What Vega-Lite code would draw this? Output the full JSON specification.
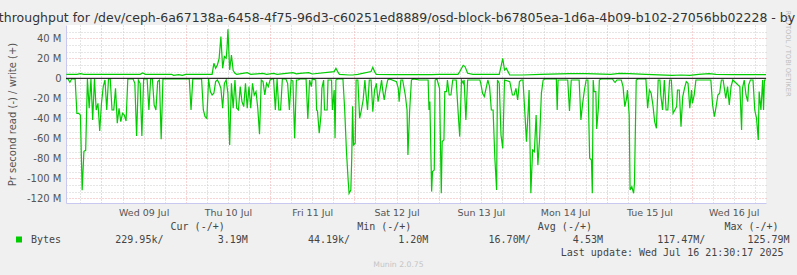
{
"$schema": "https://vega.github.io/schema/vega-lite/v6.json",
"width": 700, "height": 178,
"autosize": {"type": "none"},
"padding": {"left": 66, "top": 25, "right": 31, "bottom": 72},
"background": "#f0f0f0",
"config": {"view": {"fill": "#ffffff", "stroke": null}, "font": "DejaVu Sans"},
"title": {"text": "Disk throughput for /dev/ceph-6a67138a-6458-4f75-96d3-c60251ed8889/osd-block-b67805ea-1d6a-4b09-b102-27056bb02228 - by week", "fontSize": 12.5, "font": "DejaVu Sans", "fontWeight": "normal", "color": "#333333", "anchor": "middle", "frame": "group", "dx": -16, "dy": 18, "offset": 4},
"datasets": {
"write": [
{"t":"2025-07-08T14:00","v":4},{"t":"2025-07-08T17:00","v":4},{"t":"2025-07-08T18:00","v":4.7},{"t":"2025-07-08T19:00","v":4},
{"t":"2025-07-09T11:00","v":4},{"t":"2025-07-09T11:45","v":5.3},{"t":"2025-07-09T12:30","v":4},{"t":"2025-07-09T20:00","v":4},{"t":"2025-07-09T20:30","v":3},{"t":"2025-07-09T22:00","v":3.7},{"t":"2025-07-09T23:00","v":3},
{"t":"2025-07-10T00:00","v":4},{"t":"2025-07-10T07:30","v":4},{"t":"2025-07-10T08:00","v":15},{"t":"2025-07-10T08:30","v":10},{"t":"2025-07-10T09:00","v":13.3},{"t":"2025-07-10T09:30","v":20},{"t":"2025-07-10T10:00","v":41.7},{"t":"2025-07-10T10:30","v":10},{"t":"2025-07-10T11:00","v":21.7},{"t":"2025-07-10T11:30","v":20},{"t":"2025-07-10T11:45","v":30},{"t":"2025-07-10T12:00","v":49},{"t":"2025-07-10T12:30","v":8.3},{"t":"2025-07-10T13:00","v":23.3},{"t":"2025-07-10T13:30","v":7.7},{"t":"2025-07-10T14:00","v":5},{"t":"2025-07-10T14:30","v":4},{"t":"2025-07-10T17:30","v":5.7},{"t":"2025-07-10T18:30","v":4},{"t":"2025-07-10T22:00","v":5},{"t":"2025-07-10T23:00","v":4},
{"t":"2025-07-11T01:00","v":5},{"t":"2025-07-11T02:00","v":4},{"t":"2025-07-11T06:30","v":5.7},{"t":"2025-07-11T07:30","v":4.5},{"t":"2025-07-11T08:30","v":5},{"t":"2025-07-11T11:00","v":5.7},{"t":"2025-07-11T12:00","v":4.3},{"t":"2025-07-11T18:15","v":6.7},{"t":"2025-07-11T18:45","v":10},{"t":"2025-07-11T19:15","v":6.7},{"t":"2025-07-11T19:45","v":4},{"t":"2025-07-11T22:30","v":3.3},{"t":"2025-07-11T23:30","v":3.3},
{"t":"2025-07-12T01:00","v":4},{"t":"2025-07-12T04:45","v":6.7},{"t":"2025-07-12T05:15","v":11},{"t":"2025-07-12T05:45","v":6.7},{"t":"2025-07-12T06:15","v":4},{"t":"2025-07-12T12:00","v":3.7},{"t":"2025-07-12T22:00","v":3.7},
{"t":"2025-07-13T00:00","v":4},{"t":"2025-07-13T05:30","v":4},{"t":"2025-07-13T06:00","v":6.7},{"t":"2025-07-13T07:00","v":13},{"t":"2025-07-13T07:30","v":11.7},{"t":"2025-07-13T08:15","v":5},{"t":"2025-07-13T09:45","v":4},{"t":"2025-07-13T17:15","v":4},{"t":"2025-07-13T17:45","v":11.7},{"t":"2025-07-13T18:15","v":20},{"t":"2025-07-13T18:45","v":8.3},{"t":"2025-07-13T19:15","v":10},{"t":"2025-07-13T19:45","v":6.7},{"t":"2025-07-13T20:15","v":3.3},
{"t":"2025-07-14T00:00","v":3.3},{"t":"2025-07-14T05:00","v":4},{"t":"2025-07-14T13:15","v":4.7},{"t":"2025-07-14T18:00","v":4.7},
{"t":"2025-07-15T01:00","v":4},{"t":"2025-07-15T03:30","v":5},{"t":"2025-07-15T06:15","v":4.7},{"t":"2025-07-15T11:00","v":4},{"t":"2025-07-15T18:30","v":3},{"t":"2025-07-15T21:00","v":3.3},{"t":"2025-07-15T23:30","v":3},
{"t":"2025-07-16T02:00","v":4},{"t":"2025-07-16T05:00","v":4.7},{"t":"2025-07-16T07:00","v":4},{"t":"2025-07-16T12:00","v":3.7},{"t":"2025-07-16T21:15","v":3.7}
],
"read": [
{"t":"2025-07-08T14:00","v":-0.7},{"t":"2025-07-08T14:30","v":-0.7},{"t":"2025-07-08T15:00","v":-4},{"t":"2025-07-08T15:30","v":-0.7},{"t":"2025-07-08T16:30","v":-0.7},{"t":"2025-07-08T17:00","v":-35},{"t":"2025-07-08T17:30","v":-35},{"t":"2025-07-08T18:00","v":-36.7},{"t":"2025-07-08T18:30","v":-112},{"t":"2025-07-08T19:00","v":-73},{"t":"2025-07-08T19:30","v":-72},{"t":"2025-07-08T20:00","v":-0.7},{"t":"2025-07-08T20:30","v":-30},{"t":"2025-07-08T21:00","v":-0.7},{"t":"2025-07-08T21:30","v":-41.7},{"t":"2025-07-08T22:00","v":-0.7},{"t":"2025-07-08T22:30","v":-31.7},{"t":"2025-07-08T23:00","v":-25},{"t":"2025-07-08T23:30","v":-52.7},
{"t":"2025-07-09T00:00","v":-25},{"t":"2025-07-09T00:30","v":-8.3},{"t":"2025-07-09T01:00","v":-1.7},{"t":"2025-07-09T01:30","v":-31.7},{"t":"2025-07-09T02:00","v":-0.7},{"t":"2025-07-09T02:30","v":-0.7},{"t":"2025-07-09T03:00","v":-31.7},{"t":"2025-07-09T03:30","v":-31.7},{"t":"2025-07-09T04:00","v":-10},{"t":"2025-07-09T04:30","v":-45},{"t":"2025-07-09T05:00","v":-30},{"t":"2025-07-09T05:30","v":-43.3},{"t":"2025-07-09T06:00","v":-35},{"t":"2025-07-09T06:30","v":-36.7},{"t":"2025-07-09T07:00","v":-42.7},{"t":"2025-07-09T07:30","v":-0.7},{"t":"2025-07-09T09:00","v":-0.7},{"t":"2025-07-09T09:30","v":-5},{"t":"2025-07-09T10:00","v":-57.7},{"t":"2025-07-09T10:30","v":-1.7},{"t":"2025-07-09T11:00","v":-5},{"t":"2025-07-09T11:30","v":-57.7},{"t":"2025-07-09T12:00","v":-0.7},{"t":"2025-07-09T13:00","v":-0.7},{"t":"2025-07-09T13:30","v":-31.7},{"t":"2025-07-09T14:00","v":-0.7},{"t":"2025-07-09T14:30","v":-0.7},{"t":"2025-07-09T15:00","v":-26.7},{"t":"2025-07-09T15:30","v":-31.7},{"t":"2025-07-09T16:00","v":-3.3},{"t":"2025-07-09T16:30","v":-1.7},{"t":"2025-07-09T17:00","v":-61},{"t":"2025-07-09T17:30","v":-0.7},
{"t":"2025-07-10T01:00","v":-0.7},{"t":"2025-07-10T01:30","v":-31.7},{"t":"2025-07-10T02:00","v":-0.7},{"t":"2025-07-10T04:30","v":-0.7},{"t":"2025-07-10T05:00","v":-31.7},{"t":"2025-07-10T05:30","v":-38.3},{"t":"2025-07-10T06:00","v":-40},{"t":"2025-07-10T06:30","v":-0.7},{"t":"2025-07-10T07:00","v":-13.3},{"t":"2025-07-10T07:30","v":-16.7},{"t":"2025-07-10T08:00","v":-15},{"t":"2025-07-10T08:30","v":-3.3},{"t":"2025-07-10T09:00","v":-1.7},{"t":"2025-07-10T09:30","v":-5},{"t":"2025-07-10T10:00","v":-10},{"t":"2025-07-10T10:30","v":-30},{"t":"2025-07-10T11:00","v":-5},{"t":"2025-07-10T11:30","v":-1.7},{"t":"2025-07-10T12:00","v":-15},{"t":"2025-07-10T12:30","v":-66.7},{"t":"2025-07-10T13:00","v":-5},{"t":"2025-07-10T13:30","v":-30},{"t":"2025-07-10T14:00","v":-1.7},{"t":"2025-07-10T14:30","v":-30},{"t":"2025-07-10T15:00","v":-31.7},{"t":"2025-07-10T15:30","v":-8.3},{"t":"2025-07-10T16:00","v":-23.3},{"t":"2025-07-10T16:30","v":-28.3},{"t":"2025-07-10T17:00","v":-5},{"t":"2025-07-10T17:30","v":-30},{"t":"2025-07-10T18:00","v":-8.3},{"t":"2025-07-10T18:30","v":-30},{"t":"2025-07-10T19:00","v":-5},{"t":"2025-07-10T19:30","v":-16.7},{"t":"2025-07-10T20:00","v":-13.3},{"t":"2025-07-10T20:30","v":-30},{"t":"2025-07-10T21:00","v":-56},{"t":"2025-07-10T21:30","v":-1.7},{"t":"2025-07-10T22:00","v":-3.3},{"t":"2025-07-10T22:30","v":-16.7},{"t":"2025-07-10T23:00","v":-5},{"t":"2025-07-10T23:30","v":-8.3},
{"t":"2025-07-11T00:00","v":-1.7},{"t":"2025-07-11T00:30","v":-0.7},{"t":"2025-07-11T01:00","v":-0.7},{"t":"2025-07-11T01:30","v":-31.7},{"t":"2025-07-11T02:00","v":-0.7},{"t":"2025-07-11T02:30","v":-31.7},{"t":"2025-07-11T03:00","v":-31.7},{"t":"2025-07-11T03:30","v":-0.7},{"t":"2025-07-11T04:30","v":-0.7},{"t":"2025-07-11T05:00","v":-5},{"t":"2025-07-11T05:30","v":-31.7},{"t":"2025-07-11T06:00","v":-1.7},{"t":"2025-07-11T06:30","v":-2.7},{"t":"2025-07-11T07:00","v":-60},{"t":"2025-07-11T07:30","v":-1.7},{"t":"2025-07-11T08:00","v":-1.7},{"t":"2025-07-11T08:30","v":-0.7},{"t":"2025-07-11T10:15","v":-0.7},{"t":"2025-07-11T10:45","v":-40.7},{"t":"2025-07-11T11:15","v":-1.7},{"t":"2025-07-11T11:45","v":-8.3},{"t":"2025-07-11T12:00","v":-0.7},{"t":"2025-07-11T13:00","v":-1.7},{"t":"2025-07-11T13:15","v":-31.7},{"t":"2025-07-11T13:30","v":-32.7},{"t":"2025-07-11T14:00","v":-55},{"t":"2025-07-11T14:30","v":-36.7},{"t":"2025-07-11T14:45","v":-10},{"t":"2025-07-11T15:15","v":-1.7},{"t":"2025-07-11T15:30","v":-31.7},{"t":"2025-07-11T16:15","v":-31.7},{"t":"2025-07-11T16:30","v":-1.7},{"t":"2025-07-11T17:30","v":-1.7},{"t":"2025-07-11T17:45","v":-31.7},{"t":"2025-07-11T18:15","v":-11.7},{"t":"2025-07-11T18:30","v":-60},{"t":"2025-07-11T18:45","v":-1.7},{"t":"2025-07-11T19:15","v":-0.7},{"t":"2025-07-11T20:45","v":-0.7},{"t":"2025-07-11T21:15","v":-31.7},{"t":"2025-07-11T21:45","v":-73},{"t":"2025-07-11T22:15","v":-103},{"t":"2025-07-11T22:30","v":-115},{"t":"2025-07-11T23:00","v":-111.7},{"t":"2025-07-11T23:15","v":-80},{"t":"2025-07-11T23:30","v":-28},{"t":"2025-07-11T23:45","v":-66.7},
{"t":"2025-07-12T00:15","v":-65},{"t":"2025-07-12T00:30","v":-1.7},{"t":"2025-07-12T01:00","v":-1.7},{"t":"2025-07-12T01:30","v":-40},{"t":"2025-07-12T02:00","v":-31.7},{"t":"2025-07-12T02:30","v":-21.7},{"t":"2025-07-12T03:00","v":-1.7},{"t":"2025-07-12T03:15","v":-13.3},{"t":"2025-07-12T03:45","v":-31.7},{"t":"2025-07-12T04:15","v":-1.7},{"t":"2025-07-12T04:45","v":-1.7},{"t":"2025-07-12T05:15","v":-33.3},{"t":"2025-07-12T05:45","v":-11.7},{"t":"2025-07-12T06:15","v":-5},{"t":"2025-07-12T06:45","v":-23.3},{"t":"2025-07-12T07:15","v":-13.3},{"t":"2025-07-12T07:45","v":-1.7},{"t":"2025-07-12T08:00","v":-10},{"t":"2025-07-12T08:30","v":-21.7},{"t":"2025-07-12T09:00","v":-10},{"t":"2025-07-12T09:30","v":-1.7},{"t":"2025-07-12T10:00","v":-0.7},{"t":"2025-07-12T12:00","v":-3.3},{"t":"2025-07-12T12:30","v":-10},{"t":"2025-07-12T12:45","v":-23.3},{"t":"2025-07-12T13:15","v":-1.7},{"t":"2025-07-12T13:45","v":-1.7},{"t":"2025-07-12T14:30","v":-16.7},{"t":"2025-07-12T15:00","v":-31.7},{"t":"2025-07-12T15:15","v":-76.7},{"t":"2025-07-12T15:45","v":-31.7},{"t":"2025-07-12T16:15","v":-1.7},{"t":"2025-07-12T16:45","v":-0.7},{"t":"2025-07-12T18:30","v":-1.7},{"t":"2025-07-12T21:00","v":-1.7},{"t":"2025-07-12T21:15","v":-31.7},{"t":"2025-07-12T21:30","v":-23.3},{"t":"2025-07-12T22:00","v":-113.3},{"t":"2025-07-12T22:15","v":-93.3},{"t":"2025-07-12T22:45","v":-91.7},{"t":"2025-07-12T23:00","v":-1.7},{"t":"2025-07-12T23:30","v":-0.7},
{"t":"2025-07-13T00:15","v":-10},{"t":"2025-07-13T00:45","v":-115},{"t":"2025-07-13T01:00","v":-63.3},{"t":"2025-07-13T01:30","v":-61.7},{"t":"2025-07-13T01:45","v":-13.3},{"t":"2025-07-13T02:15","v":-13.3},{"t":"2025-07-13T02:30","v":-1.7},{"t":"2025-07-13T03:00","v":-16.7},{"t":"2025-07-13T03:30","v":-16.7},{"t":"2025-07-13T04:00","v":-1.7},{"t":"2025-07-13T05:00","v":-1.7},{"t":"2025-07-13T05:30","v":-31.7},{"t":"2025-07-13T06:00","v":-58.3},{"t":"2025-07-13T06:30","v":-1.7},{"t":"2025-07-13T07:00","v":-5},{"t":"2025-07-13T07:15","v":-1.7},{"t":"2025-07-13T07:45","v":-41.7},{"t":"2025-07-13T08:15","v":-1.7},{"t":"2025-07-13T11:45","v":-1.7},{"t":"2025-07-13T12:00","v":-5},{"t":"2025-07-13T12:30","v":-15},{"t":"2025-07-13T13:00","v":-18.3},{"t":"2025-07-13T13:30","v":-10},{"t":"2025-07-13T14:00","v":-1.7},{"t":"2025-07-13T14:30","v":-8.3},{"t":"2025-07-13T15:00","v":-31.7},{"t":"2025-07-13T15:30","v":-31.7},{"t":"2025-07-13T16:00","v":-80},{"t":"2025-07-13T16:30","v":-111.7},{"t":"2025-07-13T16:45","v":-1.7},{"t":"2025-07-13T17:15","v":-5},{"t":"2025-07-13T17:45","v":-56.7},{"t":"2025-07-13T18:15","v":-70},{"t":"2025-07-13T18:45","v":-1.7},{"t":"2025-07-13T20:15","v":-3.3},{"t":"2025-07-13T21:00","v":-16.7},{"t":"2025-07-13T21:30","v":-16.7},{"t":"2025-07-13T22:00","v":-10},{"t":"2025-07-13T22:30","v":-21.7},{"t":"2025-07-13T23:00","v":-3.3},{"t":"2025-07-13T23:30","v":-1.7},
{"t":"2025-07-14T00:00","v":-1.7},{"t":"2025-07-14T00:30","v":-31.7},{"t":"2025-07-14T01:00","v":-63.3},{"t":"2025-07-14T01:30","v":-31.7},{"t":"2025-07-14T01:45","v":-11.7},{"t":"2025-07-14T02:15","v":-115},{"t":"2025-07-14T02:45","v":-71.7},{"t":"2025-07-14T03:15","v":-73.3},{"t":"2025-07-14T03:45","v":-36.7},{"t":"2025-07-14T04:15","v":-86.7},{"t":"2025-07-14T04:45","v":-60},{"t":"2025-07-14T05:15","v":-15},{"t":"2025-07-14T05:45","v":-1.7},{"t":"2025-07-14T06:15","v":-0.7},{"t":"2025-07-14T09:30","v":-0.7},{"t":"2025-07-14T09:45","v":-31.7},{"t":"2025-07-14T10:00","v":-1.7},{"t":"2025-07-14T12:45","v":-1.7},{"t":"2025-07-14T13:15","v":-32.7},{"t":"2025-07-14T13:45","v":-1.7},{"t":"2025-07-14T16:00","v":-1.7},{"t":"2025-07-14T16:30","v":-41.7},{"t":"2025-07-14T17:00","v":-25},{"t":"2025-07-14T17:30","v":-11.7},{"t":"2025-07-14T18:00","v":-1.7},{"t":"2025-07-14T18:30","v":-1.7},{"t":"2025-07-14T19:00","v":-80},{"t":"2025-07-14T19:30","v":-81.7},{"t":"2025-07-14T19:45","v":-115},{"t":"2025-07-14T20:00","v":-1.7},{"t":"2025-07-14T20:15","v":-13.3},{"t":"2025-07-14T20:45","v":-13.3},{"t":"2025-07-14T21:00","v":-50.7},{"t":"2025-07-14T21:30","v":-28.3},{"t":"2025-07-14T21:45","v":-1.7},{"t":"2025-07-14T22:15","v":-0.7},
{"t":"2025-07-15T01:30","v":-0.7},{"t":"2025-07-15T02:00","v":-3.3},{"t":"2025-07-15T02:15","v":-4},{"t":"2025-07-15T02:45","v":-1.7},{"t":"2025-07-15T04:00","v":-1.7},{"t":"2025-07-15T04:30","v":-8.3},{"t":"2025-07-15T05:00","v":-28.3},{"t":"2025-07-15T05:30","v":-20},{"t":"2025-07-15T05:45","v":-11.7},{"t":"2025-07-15T06:15","v":-36.7},{"t":"2025-07-15T06:30","v":-111.7},{"t":"2025-07-15T07:00","v":-108.3},{"t":"2025-07-15T07:30","v":-115},{"t":"2025-07-15T07:45","v":-105},{"t":"2025-07-15T08:15","v":-1.7},{"t":"2025-07-15T08:45","v":-0.7},{"t":"2025-07-15T11:00","v":-0.7},{"t":"2025-07-15T11:30","v":-30},{"t":"2025-07-15T12:00","v":-11.7},{"t":"2025-07-15T12:30","v":-15},{"t":"2025-07-15T13:00","v":-26.7},{"t":"2025-07-15T13:30","v":-43.3},{"t":"2025-07-15T14:00","v":-50},{"t":"2025-07-15T14:30","v":-1.7},{"t":"2025-07-15T15:00","v":-1.7},{"t":"2025-07-15T15:15","v":-16.7},{"t":"2025-07-15T15:45","v":-31.7},{"t":"2025-07-15T16:15","v":-1.7},{"t":"2025-07-15T16:45","v":-31.7},{"t":"2025-07-15T17:15","v":-31.7},{"t":"2025-07-15T17:45","v":-1.7},{"t":"2025-07-15T18:15","v":-1.7},{"t":"2025-07-15T18:45","v":-35},{"t":"2025-07-15T19:15","v":-31.7},{"t":"2025-07-15T19:45","v":-28.3},{"t":"2025-07-15T20:00","v":-11.7},{"t":"2025-07-15T20:30","v":-11.7},{"t":"2025-07-15T21:00","v":-48.3},{"t":"2025-07-15T21:30","v":-18.3},{"t":"2025-07-15T22:00","v":-10},{"t":"2025-07-15T22:30","v":-3.3},{"t":"2025-07-15T23:00","v":-5},{"t":"2025-07-15T23:30","v":-30},
{"t":"2025-07-16T00:00","v":-11.7},{"t":"2025-07-16T00:15","v":-25},{"t":"2025-07-16T00:45","v":-16.7},{"t":"2025-07-16T01:15","v":-1.7},{"t":"2025-07-16T05:30","v":-1.7},{"t":"2025-07-16T06:00","v":-26.7},{"t":"2025-07-16T06:30","v":-38.3},{"t":"2025-07-16T07:00","v":-28.3},{"t":"2025-07-16T07:30","v":-16.7},{"t":"2025-07-16T08:00","v":-15},{"t":"2025-07-16T08:30","v":-1.7},{"t":"2025-07-16T09:00","v":-1.7},{"t":"2025-07-16T09:45","v":-20},{"t":"2025-07-16T10:15","v":-8.3},{"t":"2025-07-16T10:45","v":-26.7},{"t":"2025-07-16T11:15","v":-8.3},{"t":"2025-07-16T11:45","v":-1.7},{"t":"2025-07-16T12:45","v":-5},{"t":"2025-07-16T13:15","v":-6.7},{"t":"2025-07-16T13:45","v":-8.3},{"t":"2025-07-16T14:15","v":-51.7},{"t":"2025-07-16T14:30","v":-10},{"t":"2025-07-16T15:00","v":-1.7},{"t":"2025-07-16T15:30","v":-16.7},{"t":"2025-07-16T16:00","v":-23.3},{"t":"2025-07-16T16:15","v":-6.7},{"t":"2025-07-16T16:45","v":-1.7},{"t":"2025-07-16T17:30","v":-1.7},{"t":"2025-07-16T18:00","v":-31.7},{"t":"2025-07-16T18:30","v":-40},{"t":"2025-07-16T19:00","v":-61.7},{"t":"2025-07-16T19:15","v":-13.3},{"t":"2025-07-16T19:45","v":-31.7},{"t":"2025-07-16T20:15","v":-1.7},{"t":"2025-07-16T20:30","v":-31.7},{"t":"2025-07-16T20:45","v":-1.7},{"t":"2025-07-16T21:15","v":-1.7}
]
},
"layer": [
{"data": {"name": "write"},
 "mark": {"type": "line", "strokeWidth": 1.2, "clip": true, "interpolate": "linear"},
 "encoding": {
  "x": {"field": "t", "type": "temporal",
   "scale": {"domain": [{"year":2025,"month":7,"date":8,"hours":13,"minutes":54},{"year":2025,"month":7,"date":16,"hours":21,"minutes":12}]},
   "axis": {"orient": "bottom",
    "values": [{"year":2025,"month":7,"date":8,"hours":18},
     {"year":2025,"month":7,"date":9,"hours":6},{"year":2025,"month":7,"date":9,"hours":12},{"year":2025,"month":7,"date":9,"hours":18},
     {"year":2025,"month":7,"date":10,"hours":6},{"year":2025,"month":7,"date":10,"hours":12},{"year":2025,"month":7,"date":10,"hours":18},
     {"year":2025,"month":7,"date":11,"hours":6},{"year":2025,"month":7,"date":11,"hours":12},{"year":2025,"month":7,"date":11,"hours":18},
     {"year":2025,"month":7,"date":12,"hours":6},{"year":2025,"month":7,"date":12,"hours":12},{"year":2025,"month":7,"date":12,"hours":18},
     {"year":2025,"month":7,"date":13,"hours":6},{"year":2025,"month":7,"date":13,"hours":12},{"year":2025,"month":7,"date":13,"hours":18},
     {"year":2025,"month":7,"date":14,"hours":6},{"year":2025,"month":7,"date":14,"hours":12},{"year":2025,"month":7,"date":14,"hours":18},
     {"year":2025,"month":7,"date":15,"hours":6},{"year":2025,"month":7,"date":15,"hours":12},{"year":2025,"month":7,"date":15,"hours":18},
     {"year":2025,"month":7,"date":16,"hours":6},{"year":2025,"month":7,"date":16,"hours":12},{"year":2025,"month":7,"date":16,"hours":18}],
    "labelExpr": "hours(datum.value) == 12 ? timeFormat(datum.value, '%a %d %b') : ''",
    "labelFont": "DejaVu Sans", "labelFontSize": 9.5, "labelColor": "#555555", "labelPadding": 4, "labelOverlap": false, "labelFlush": false,
    "ticks": false, "grid": true, "gridColor": "#c8c8c8", "gridDash": [1, 2], "domainColor": "#c8c8f0",
    "title": "Last update: Wed Jul 16 21:30:17 2025", "titleFont": "DejaVu Sans Mono", "titleFontSize": 10, "titleFontWeight": "normal", "titleColor": "#444444",
    "titleX": 717, "titleY": 49, "titleAlign": "right", "titleBaseline": "middle", "titleAngle": 0}},
  "y": {"field": "v", "type": "quantitative",
   "scale": {"domain": [-124.7, 53.3], "nice": false, "zero": false},
   "axis": {"orient": "left", "values": [-120, -100, -80, -60, -40, -20, 0, 20, 40],
    "labelExpr": "datum.value == 0 ? '0' : datum.value + ' M'",
    "labelFont": "DejaVu Sans", "labelFontSize": 10, "labelColor": "#555555", "labelPadding": 5,
    "ticks": false, "grid": true, "gridColor": "#f0a8a8", "gridDash": [1, 2], "domainColor": "#c8c8f0",
    "title": "Pr second read (-) / write (+)", "titleFont": "DejaVu Sans", "titleFontSize": 10, "titleFontWeight": "normal", "titleColor": "#555555",
    "titleX": -54, "titleY": 89, "titleAngle": -90, "titleAlign": "center", "titleBaseline": "middle"}},
  "color": {"datum": "Bytes", "type": "nominal", "scale": {"range": ["#00cc00"]},
   "legend": {"orient": "none", "legendX": -52, "legendY": 196.5, "padding": 0,
    "symbolType": "square", "symbolSize": 36, "symbolFillColor": "#00cc00", "symbolStrokeColor": "#00cc00", "symbolStrokeWidth": 0,
    "labelFont": "DejaVu Sans Mono", "labelFontSize": 10, "labelColor": "#444444", "labelOffset": 7, "labelLimit": 1000,
    "labelExpr": "pad('Bytes',14,'\u00a0') + pad('229.95k/',17,'\u00a0') + pad('3.19M',15,'\u00a0') + pad('44.19k/',15,'\u00a0') + pad('1.20M',15,'\u00a0') + pad('16.70M/',14,'\u00a0') + pad('4.53M',14,'\u00a0') + pad('117.47M/',15,'\u00a0') + '125.79M'",
    "title": "\u200b\u00a0\u00a0\u00a0\u00a0\u00a0\u00a0\u00a0\u00a0\u00a0\u00a0\u00a0\u00a0\u00a0\u00a0\u00a0\u00a0\u00a0\u00a0\u00a0\u00a0\u00a0\u00a0\u00a0\u00a0\u00a0\u00a0Cur (-/+)\u00a0\u00a0\u00a0\u00a0\u00a0\u00a0\u00a0\u00a0\u00a0\u00a0\u00a0\u00a0\u00a0\u00a0\u00a0\u00a0\u00a0\u00a0\u00a0\u00a0\u00a0\u00a0Min (-/+)\u00a0\u00a0\u00a0\u00a0\u00a0\u00a0\u00a0\u00a0\u00a0\u00a0\u00a0\u00a0\u00a0\u00a0\u00a0\u00a0\u00a0\u00a0\u00a0\u00a0\u00a0Avg (-/+)\u00a0\u00a0\u00a0\u00a0\u00a0\u00a0\u00a0\u00a0\u00a0\u00a0\u00a0\u00a0\u00a0\u00a0\u00a0\u00a0\u00a0\u00a0\u00a0\u00a0\u00a0\u00a0Max (-/+)",
    "titleFont": "DejaVu Sans Mono", "titleFontSize": 10, "titleFontWeight": "normal", "titleColor": "#444444", "titlePadding": 3, "titleLimit": 1000,
    "encode": {"symbols": {"update": {"fill": {"value": "#00cc00"}, "stroke": {"value": "#00cc00"}, "opacity": {"value": 1}}}}}}
 }},
{"data": {"name": "read"},
 "mark": {"type": "line", "strokeWidth": 1.2, "clip": true, "interpolate": "linear"},
 "encoding": {
  "x": {"field": "t", "type": "temporal",
   "axis": {"orient": "top",
    "values": [{"year":2025,"month":7,"date":9},{"year":2025,"month":7,"date":10},{"year":2025,"month":7,"date":11},{"year":2025,"month":7,"date":12},{"year":2025,"month":7,"date":13},{"year":2025,"month":7,"date":14},{"year":2025,"month":7,"date":15},{"year":2025,"month":7,"date":16}],
    "labels": false, "ticks": false, "domain": false, "grid": true, "gridColor": "#f0a8a8", "gridDash": [1, 2],
    "title": "Munin 2.0.75", "titleFont": "DejaVu Sans", "titleFontSize": 7.7, "titleFontWeight": "normal", "titleColor": "#c4c4c4",
    "titleX": 332, "titleY": 239, "titleAlign": "center", "titleBaseline": "middle", "titleAngle": 0}},
  "y": {"field": "v", "type": "quantitative",
   "axis": {"orient": "right",
    "values": [-113.333, -106.667, -93.333, -86.667, -73.333, -66.667, -53.333, -46.667, -33.333, -26.667, -13.333, -6.667, 6.667, 13.333, 26.667, 33.333, 46.667],
    "labels": false, "ticks": false, "domain": false, "grid": true, "gridColor": "#cccccc", "gridDash": [1, 2],
    "title": "RRDTOOL / TOBI OETIKER", "titleFont": "DejaVu Sans", "titleFontSize": 6.7, "titleFontWeight": "normal", "titleColor": "#bdbdbd",
    "titleAngle": 90, "titleX": 21.7, "titleY": -15, "titleAlign": "left", "titleBaseline": "middle"}},
  "color": {"datum": "Bytes", "type": "nominal"}
 }},
{"data": {"values": [{}]},
 "mark": {"type": "rule", "color": "#000000", "strokeWidth": 1},
 "encoding": {"y": {"datum": 0, "type": "quantitative", "axis": null}}}
],
"resolve": {"axis": {"x": "independent", "y": "independent"}}
}
